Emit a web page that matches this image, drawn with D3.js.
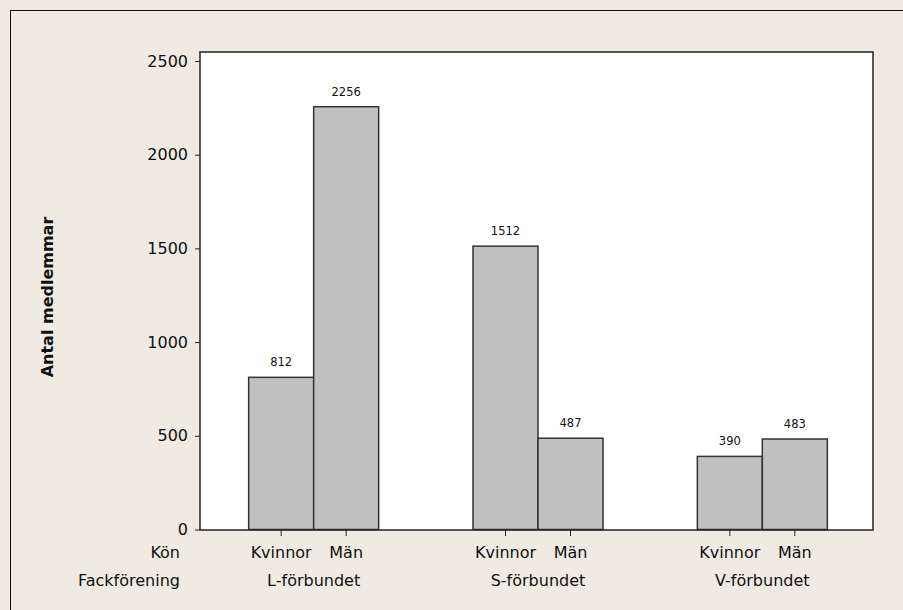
<!DOCTYPE html>
<html>
<head>
<meta charset="utf-8">
<script src="https://cdn.jsdelivr.net/npm/d3@7"></script>
<style>
  body { margin: 0; background: #efebe2; }
  svg { display: block; }
</style>
</head>
<body>
<div id="chart"></div>
<script>
// ------------------------------------------------------------
// Data
// ------------------------------------------------------------
const unions = ["L-förbundet", "S-förbundet", "V-förbundet"];
const genders = ["Kvinnor", "Män"];
const kvinnor = [812, 1512, 390];
const man = [2256, 487, 483];
const yTicks = [0, 500, 1000, 1500, 2000, 2500];

const rows = [];
unions.forEach((u, i) => {
  rows.push({ union: u, gender: "Kvinnor", value: kvinnor[i] });
  rows.push({ union: u, gender: "Män", value: man[i] });
});

// ------------------------------------------------------------
// Layout
// ------------------------------------------------------------
const width = 903, height = 610;
const plot = { left: 200, right: 873, top: 52, bottom: 530 };
const barW = 65;

const svg = d3.select("#chart").append("svg")
  .attr("width", width)
  .attr("height", height);

// outer frame (only top/left visible)
svg.append("rect")
  .attr("x", 10.5).attr("y", 10.5)
  .attr("width", 1000).attr("height", 1000)
  .attr("fill", "#efebe2")
  .attr("stroke", "#111")
  .attr("stroke-width", 1);

// plot background
svg.append("rect")
  .attr("x", plot.left).attr("y", plot.top)
  .attr("width", plot.right - plot.left)
  .attr("height", plot.bottom - plot.top)
  .attr("fill", "#fff");

const x0 = d3.scaleBand()
  .domain(unions)
  .range([plot.left + 1.5, plot.right + 1.5])
  .padding(0);

const x1 = d3.scaleBand()
  .domain(genders)
  .range([x0.bandwidth() / 2 - barW, x0.bandwidth() / 2 + barW])
  .padding(0);

const y = d3.scaleLinear()
  .domain([0, 2500])
  .range([529.5, 61]);

// Bars
const g = svg.append("g");
g.selectAll("rect")
  .data(rows)
  .join("rect")
  .attr("x", d => x0(d.union) + x1(d.gender))
  .attr("y", d => y(d.value))
  .attr("width", x1.bandwidth())
  .attr("height", d => y(0) - y(d.value))
  .attr("fill", "#c0c0c0")
  .attr("stroke", "#333")
  .attr("stroke-width", 1.5);

// Value labels
g.selectAll("text.val")
  .data(rows)
  .join("text")
  .attr("class", "val")
  .attr("x", d => x0(d.union) + x1(d.gender) + x1.bandwidth() / 2)
  .attr("y", d => y(d.value) - 11)
  .attr("text-anchor", "middle")
  .attr("font-family", "DejaVu Sans")
  .attr("font-size", "11.5px")
  .attr("fill", "#111")
  .text(d => d.value);

// Plot frame
svg.append("rect")
  .attr("x", plot.left).attr("y", plot.top)
  .attr("width", plot.right - plot.left)
  .attr("height", plot.bottom - plot.top)
  .attr("fill", "none")
  .attr("stroke", "#222")
  .attr("stroke-width", 1.5);

// Y axis
const yAxis = svg.append("g")
  .attr("transform", `translate(${plot.left},0)`)
  .call(d3.axisLeft(y).tickValues(yTicks).tickFormat(d3.format("d")).tickSize(5).tickPadding(7));
yAxis.select(".domain").remove();
yAxis.selectAll("line").attr("stroke", "#222");
yAxis.selectAll("text")
  .attr("font-family", "DejaVu Sans")
  .attr("font-size", "16px")
  .attr("fill", "#111");

// X ticks at bar centres
rows.forEach(d => {
  const cx = x0(d.union) + x1(d.gender) + x1.bandwidth() / 2;
  svg.append("line")
    .attr("x1", cx).attr("x2", cx)
    .attr("y1", plot.bottom).attr("y2", plot.bottom + 6)
    .attr("stroke", "#222");
  svg.append("text")
    .attr("x", cx)
    .attr("y", 558)
    .attr("text-anchor", "middle")
    .attr("font-family", "DejaVu Sans")
    .attr("font-size", "16px")
    .attr("fill", "#111")
    .text(d.gender);
});

// Union labels
svg.selectAll("text.union")
  .data(unions)
  .join("text")
  .attr("class", "union")
  .attr("x", d => x0(d) + x0.bandwidth() / 2)
  .attr("y", 586)
  .attr("text-anchor", "middle")
  .attr("font-family", "DejaVu Sans")
  .attr("font-size", "16px")
  .attr("fill", "#111")
  .text(d => d);

// Row titles
svg.append("text")
  .attr("x", 180).attr("y", 558)
  .attr("text-anchor", "end")
  .attr("font-family", "DejaVu Sans")
  .attr("font-size", "16px")
  .attr("fill", "#111")
  .text("Kön");

svg.append("text")
  .attr("x", 180).attr("y", 586)
  .attr("text-anchor", "end")
  .attr("font-family", "DejaVu Sans")
  .attr("font-size", "16px")
  .attr("fill", "#111")
  .text("Fackförening");

// Y title
svg.append("text")
  .attr("transform", "translate(53,297) rotate(-90)")
  .attr("text-anchor", "middle")
  .attr("font-family", "DejaVu Sans")
  .attr("font-weight", "bold")
  .attr("font-size", "16px")
  .attr("fill", "#111")
  .text("Antal medlemmar");
</script>
</body>
</html>
